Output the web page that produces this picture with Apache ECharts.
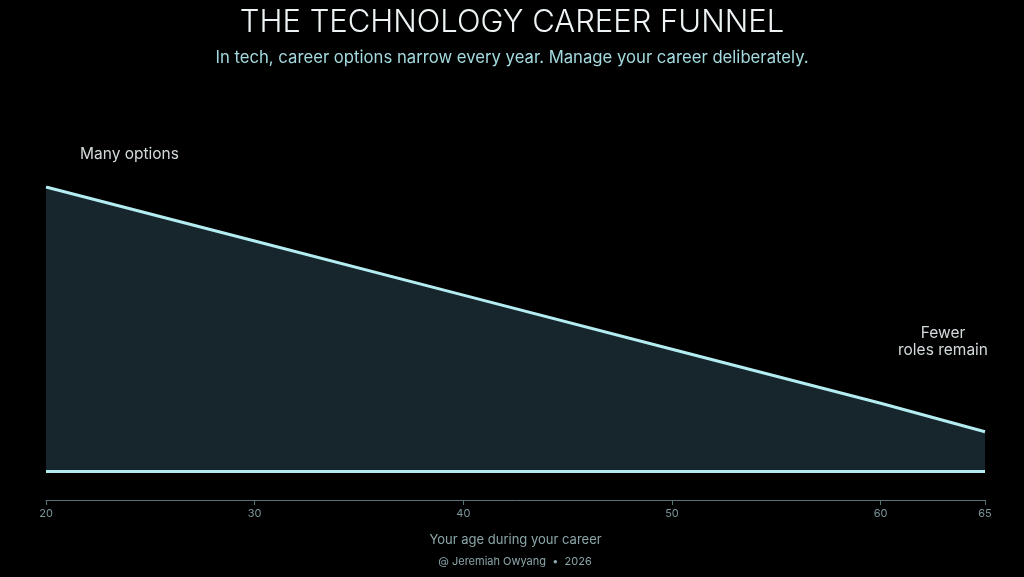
<!DOCTYPE html>
<html>
<head>
<meta charset="utf-8">
<script src="https://cdn.jsdelivr.net/npm/echarts@6/dist/echarts.min.js"></script>
<style>
  html, body { margin: 0; padding: 0; background: #000; }
  #chart { width: 1024px; height: 577px; }
</style>
</head>
<body>
<div id="chart"></div>
<script>
// Data
const ages = [20, 30, 40, 50, 60, 65];
const careerOptions = [100, 81, 62, 43, 24, 14];
const baselineAges = [20, 65];
const baselineValues = [0, 0];
const tickLabels = [20, 30, 40, 50, 60, 65];

const titleText = 'THE TECHNOLOGY CAREER FUNNEL';
const subtitleText = 'In tech, career options narrow every year. Manage your career deliberately.';
const xAxisName = 'Your age during your career';
const creditText = '@ Jeremiah Owyang  \u2022  2026';
const noteStart = 'Many options';
const noteEnd = 'Fewer\nroles remain';

const LINE = '#b3ecf1';
const FILL = '#17262d';
const FONT = 'Inter, "Noto Sans", sans-serif';

const chart = echarts.init(document.getElementById('chart'));
chart.setOption({
  backgroundColor: '#000',
  animation: false,
  title: {
    text: titleText,
    subtext: subtitleText,
    left: 'center',
    top: 2,
    itemGap: 11,
    textStyle: { color: '#eef4f5', fontSize: 31, fontWeight: 300, fontFamily: FONT },
    subtextStyle: { color: '#a3dadf', fontSize: 16.7, fontWeight: 400, fontFamily: FONT }
  },
  grid: { left: 46, right: 39, top: 187, bottom: 77 },
  xAxis: {
    type: 'value',
    min: 20,
    max: 65,
    interval: 5,
    name: xAxisName,
    nameLocation: 'middle',
    nameGap: 34,
    nameTextStyle: { color: '#8ba6aa', fontSize: 13, fontFamily: FONT },
    axisLine: { show: true, onZero: false, lineStyle: { color: '#587479', width: 1 } },
    axisTick: { show: true, length: 5, lineStyle: { color: '#587479' }, customValues: tickLabels },
    axisLabel: { color: '#7d979b', fontSize: 11, fontFamily: FONT, margin: 8, customValues: tickLabels },
    splitLine: { show: false }
  },
  yAxis: {
    type: 'value',
    min: -10,
    max: 100,
    show: false,
    splitLine: { show: false }
  },
  series: [
    {
      type: 'line',
      data: ages.map((a, i) => [a, careerOptions[i]]),
      symbol: 'none',
      lineStyle: { color: LINE, width: 3 },
      areaStyle: { color: FILL, opacity: 1, origin: 0 },
      z: 2
    },
    {
      type: 'line',
      data: baselineAges.map((a, i) => [a, baselineValues[i]]),
      symbol: 'none',
      lineStyle: { color: LINE, width: 3 },
      z: 3
    }
  ],
  graphic: [
    {
      type: 'text', x: 80, y: 154,
      style: { text: noteStart, fill: '#d3dadc', font: '400 15.5px ' + FONT, align: 'left', verticalAlign: 'middle' }
    },
    {
      type: 'text', x: 943, y: 342,
      style: { text: noteEnd, fill: '#d3dadc', font: '400 15.5px ' + FONT, align: 'center', verticalAlign: 'middle', lineHeight: 17 }
    },
    {
      type: 'text', x: 515, y: 561.5,
      style: { text: creditText, fill: '#8ba6aa', font: '400 11px ' + FONT, align: 'center', verticalAlign: 'middle' }
    }
  ]
});
</script>
</body>
</html>
